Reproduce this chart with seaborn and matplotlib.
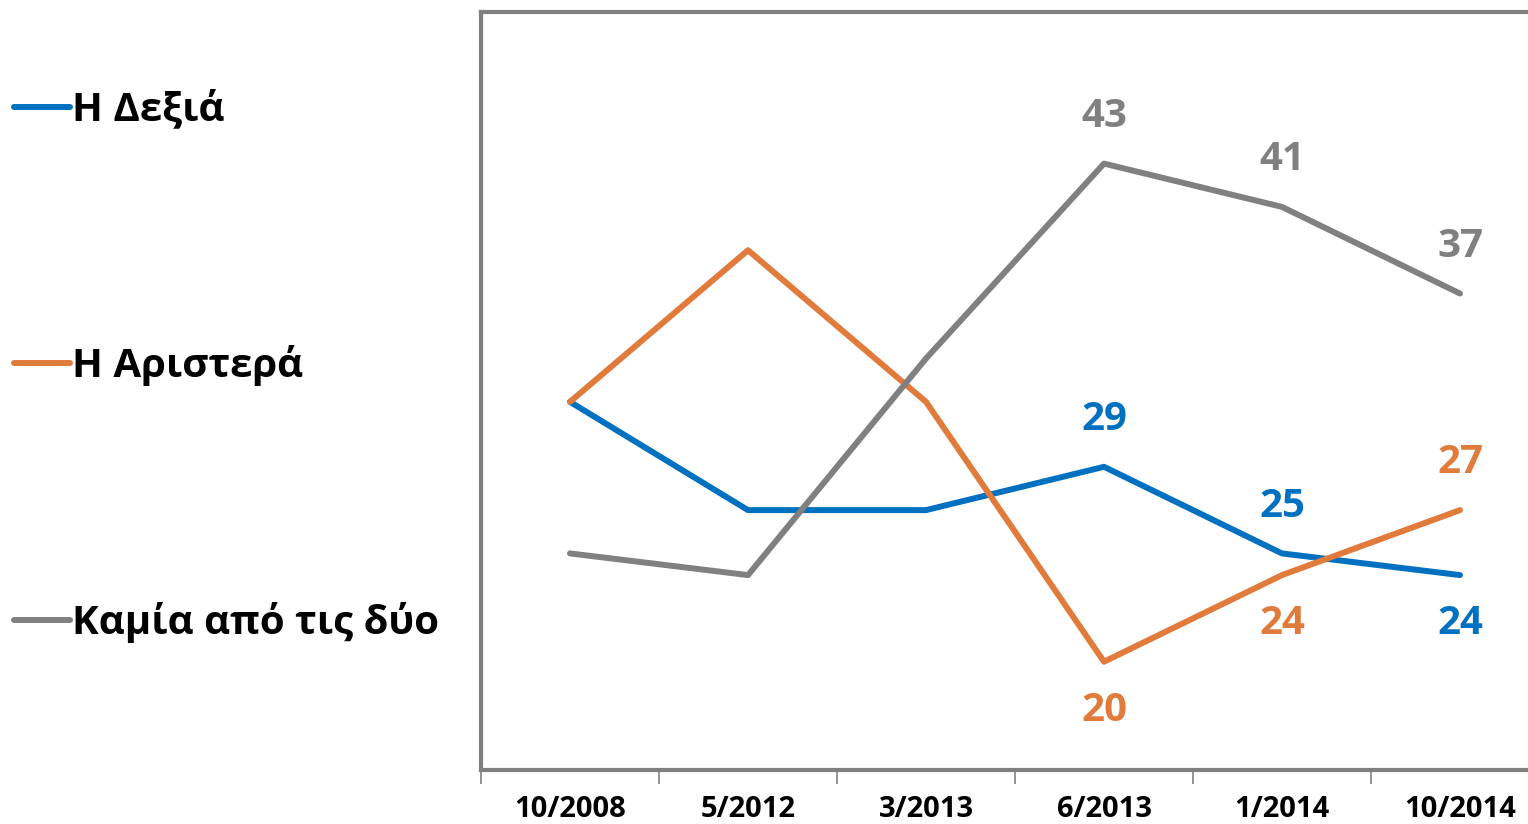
import matplotlib
matplotlib.use("Agg")
import matplotlib.pyplot as plt
import seaborn as sns
import pandas as pd

# data
periods = ["10/2008", "5/2012", "3/2013", "6/2013", "1/2014", "10/2014"]
series_names = ["Η Δεξιά", "Η Αριστερά", "Καμία από τις δύο"]
right_vals = [32, 27, 27, 29, 25, 24]
left_vals = [32, 39, 32, 20, 24, 27]
neither_vals = [25, 24, 34, 43, 41, 37]

colors = ["#0070C0", "#E07B3C", "#808080"]

# which points get a value label: (series, index, placement)
label_points = [
    (0, 3, "above"), (0, 4, "above"), (0, 5, "below"),
    (1, 3, "below"), (1, 4, "below"), (1, 5, "above"),
    (2, 3, "above"), (2, 4, "above"), (2, 5, "above"),
]

df = pd.DataFrame({
    "period": periods * 3,
    "pos": list(range(len(periods))) * 3,
    "value": right_vals + left_vals + neither_vals,
    "series": [s for s in series_names for _ in periods],
})

sns.set_theme(style="white")
plt.rcParams["font.family"] = ["Open Sans", "DejaVu Sans"]

fig = plt.figure(figsize=(15.28, 8.24), dpi=100)
# plot area runs past the right edge of the image, like the original crop
ax = fig.add_axes([481 / 1528, 1 - 770 / 824, 1068 / 1528, 758 / 824])

sns.lineplot(data=df, x="pos", y="value", hue="series", hue_order=series_names,
             palette=colors, linewidth=4.3, ax=ax, legend=False,
             solid_capstyle="round")

vals = [right_vals, left_vals, neither_vals]
for si, idx, where in label_points:
    dy = 34 if where == "above" else -35
    ax.annotate(str(vals[si][idx]), (idx, vals[si][idx]), xytext=(0, dy),
                textcoords="offset points", ha="center", va="center",
                fontsize=29, fontweight="bold", color=colors[si])

ax.set_xlim(-0.5, len(periods) - 0.5)
ax.set_ylim(15, 50)
ax.set_yticks([])
ax.set_xticks(range(len(periods)))
ax.set_xticklabels(periods, fontsize=21, fontweight="bold", color="black")
ax.tick_params(axis="x", which="major", length=0, pad=18, bottom=False)
ax.set_xticks([i - 0.5 for i in range(len(periods) + 1)], minor=True)
ax.tick_params(axis="x", which="minor", bottom=True, length=10, width=1.2,
               color="#808080", direction="out")
ax.set_xlabel("")
ax.set_ylabel("")

for side in ["left", "top", "bottom", "right"]:
    ax.spines[side].set_color("#808080")
    ax.spines[side].set_linewidth(3)

# legend on the left, outside the plot
handles = [plt.Line2D([], [], color=c, linewidth=4.3, solid_capstyle="round")
           for c in colors]
leg = fig.legend(handles, series_names, loc="upper left",
                 bbox_to_anchor=(14 / 1528, 1 - 90 / 824), frameon=False,
                 borderpad=0, borderaxespad=0,
                 handlelength=1.4, handletextpad=0.05, labelspacing=5.35,
                 labelcolor="black",
                 prop={"size": 29, "weight": "bold"})

fig.savefig("out.png", dpi=100)
